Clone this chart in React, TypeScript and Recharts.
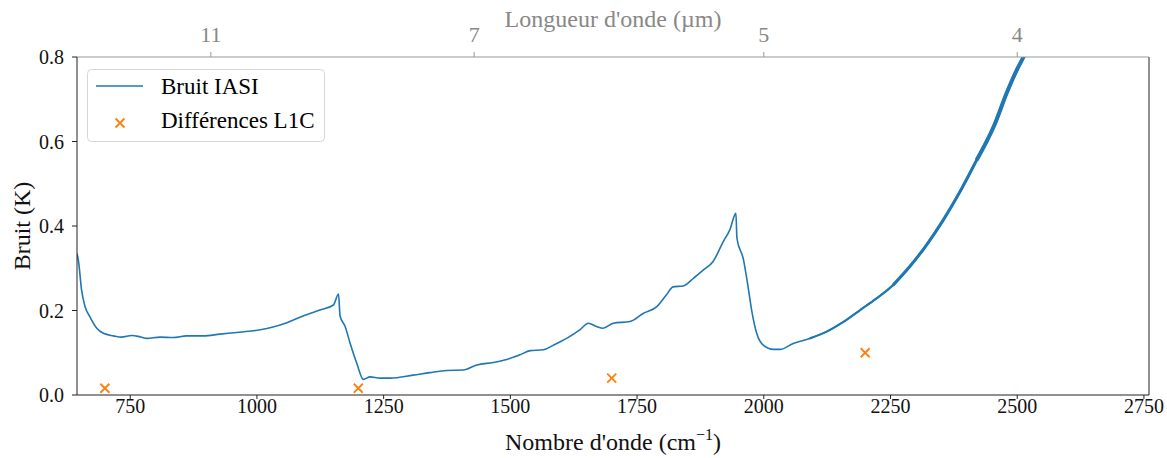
import { ComposedChart, Line, Scatter, XAxis, YAxis, Legend, ReferenceLine } from "recharts"

// Bruit IASI (K) vs nombre d'onde (cm-1)
const wavenumbers = [
  645, 648, 654, 661, 671, 684, 697, 717, 733, 753, 769, 783, 809, 835, 861, 894, 927, 960, 993,
  1026, 1059, 1091, 1124, 1151, 1161, 1164, 1174, 1184, 1197, 1210, 1223, 1243, 1263, 1308, 1341,
  1374, 1407, 1434, 1466, 1493, 1519, 1539, 1565, 1585, 1611, 1637, 1654, 1670, 1683, 1703, 1736,
  1762, 1789, 1808, 1821, 1841, 1861, 1881, 1900, 1920, 1933, 1945, 1947, 1960, 1969, 1976, 1986,
  1999, 2019, 2032, 2058, 2091, 2124, 2157, 2190, 2223, 2255, 2288, 2321, 2354, 2387, 2420, 2455,
  2479, 2499, 2512, 2525,
]
const bruitIasi = [
  0.335, 0.316, 0.249, 0.209, 0.184, 0.158, 0.146, 0.14, 0.137, 0.141, 0.138, 0.134, 0.137, 0.136,
  0.14, 0.14, 0.144, 0.148, 0.152, 0.159, 0.171, 0.187, 0.201, 0.213, 0.239, 0.187, 0.162, 0.122,
  0.075, 0.037, 0.043, 0.04, 0.04, 0.047, 0.053, 0.058, 0.059, 0.071, 0.077, 0.084, 0.095, 0.105,
  0.107, 0.118, 0.134, 0.154, 0.17, 0.162, 0.158, 0.17, 0.174, 0.193, 0.209, 0.237, 0.256, 0.258,
  0.276, 0.296, 0.316, 0.363, 0.391, 0.43, 0.371, 0.32, 0.256, 0.201, 0.146, 0.118, 0.108, 0.108,
  0.122, 0.134, 0.15, 0.173, 0.201, 0.229, 0.26, 0.304, 0.355, 0.414, 0.481, 0.556, 0.639, 0.714,
  0.769, 0.799, 0.83,
]

// Différences L1C
const diffWavenumbers = [700, 1200, 1700, 2200]
const diffValues = [0.016, 0.016, 0.04, 0.1]

const xTicks = [750, 1000, 1250, 1500, 1750, 2000, 2250, 2500, 2750]
const yTicks = [0, 0.2, 0.4, 0.6, 0.8]
const wavelengthTicks = [11, 7, 5, 4] // µm

const noiseData = wavenumbers.map((wn, i) => ({ wn, bruit: bruitIasi[i] }))
const diffData = diffWavenumbers.map((wn, i) => ({ wn, bruit: diffValues[i] }))

const BLUE = "#1f77b4"
const ORANGE = "#ff7f0e"
const FONT = "'Liberation Serif', 'DejaVu Serif', serif"

const XMark = (props: any) => {
  const { cx, cy } = props
  const s = 4.5
  return (
    <path
      d={`M${cx - s},${cy - s}L${cx + s},${cy + s}M${cx - s},${cy + s}L${cx + s},${cy - s}`}
      stroke={ORANGE}
      strokeWidth={1.8}
      fill="none"
    />
  )
}

const LegendBox = () => (
  <svg width={238} height={73} style={{ display: "block" }}>
    <rect x={0.5} y={0.5} width={237} height={72} rx={4} fill="#fff" fillOpacity={0.8} stroke="#d6d6d6" />
    <line x1={9} x2={56} y1={17} y2={17} stroke={BLUE} strokeWidth={1.5} />
    <text x={74} y={25} fontSize={23} fill="#000" fontFamily={FONT}>Bruit IASI</text>
    <XMark cx={33} cy={54} />
    <text x={74} y={59} fontSize={23} fill="#000" fontFamily={FONT}>Différences L1C</text>
  </svg>
)

// the noise band gets wider toward the short-wave end
const noisyFrom = (start: number) => (d: any) => (d.wn >= start ? d.bruit : null)

export default function App() {
  return (
    <div style={{ position: "absolute", left: 0, top: 0, fontFamily: FONT }}>
      <ComposedChart width={1167} height={458} data={noiseData} margin={{ top: 12, right: 18, bottom: 13, left: 17 }}>
        <XAxis
          dataKey="wn"
          type="number"
          domain={[645, 2760]}
          allowDataOverflow
          ticks={xTicks}
          height={50}
          stroke="#222"
          tickSize={4}
          tickMargin={0}
          tick={{ fill: "#111", fontSize: 20 }}
          label={{
            content: () => (
              <text x={613} y={450} textAnchor="middle" fontSize={24} fill="#111">
                Nombre d'onde (cm
                <tspan fontSize={16} dy={-10}>−1</tspan>
                <tspan dy={10}>)</tspan>
              </text>
            ),
          }}
        />
        <XAxis
          xAxisId="top"
          dataKey="wn"
          orientation="top"
          type="number"
          domain={[645, 2760]}
          allowDataOverflow
          ticks={wavelengthTicks.map((l) => 10000 / l)}
          tickFormatter={(v) => String(Math.round(10000 / v))}
          height={45}
          stroke="#999"
          tickSize={5}
          tickMargin={10}
          tick={{ fill: "#888", fontSize: 22 }}
          label={{
            content: () => (
              <text x={613} y={27} textAnchor="middle" fontSize={24} fill="#888">
                Longueur d'onde (µm)
              </text>
            ),
          }}
        />
        <YAxis
          type="number"
          domain={[0, 0.8]}
          allowDataOverflow
          ticks={yTicks}
          tickFormatter={(v) => v.toFixed(1)}
          width={60}
          stroke="#222"
          tickSize={5}
          tickMargin={8}
          tick={{ fill: "#111", fontSize: 20 }}
          label={{
            content: () => (
              <text x={30} y={226} transform="rotate(-90 30 226)" textAnchor="middle" fontSize={24} fill="#111">
                Bruit (K)
              </text>
            ),
          }}
        />
        <ReferenceLine x={2760} stroke="#222" />
        {/* invisible series that ties the wavelength axis to the same data */}
        <Line
          xAxisId="top"
          dataKey="bruit"
          stroke="none"
          dot={false}
          activeDot={false}
          legendType="none"
          isAnimationActive={false}
        />
        <Line
          type="monotone"
          dataKey="bruit"
          stroke={BLUE}
          strokeWidth={1.6}
          dot={false}
          isAnimationActive={false}
        />
        <Line
          type="monotone"
          dataKey={noisyFrom(2090)}
          stroke={BLUE}
          strokeWidth={2.2}
          dot={false}
          legendType="none"
          isAnimationActive={false}
        />
        <Line
          type="monotone"
          dataKey={noisyFrom(2250)}
          stroke={BLUE}
          strokeWidth={3}
          dot={false}
          legendType="none"
          isAnimationActive={false}
        />
        <Line
          type="monotone"
          dataKey={noisyFrom(2400)}
          stroke={BLUE}
          strokeWidth={4}
          dot={false}
          legendType="none"
          isAnimationActive={false}
        />
        <Scatter data={diffData} dataKey="bruit" shape={<XMark />} isAnimationActive={false} />
        <Legend
          layout="vertical"
          align="center"
          verticalAlign="middle"
          content={() => <LegendBox />}
          wrapperStyle={{ position: "absolute", left: 87, top: 69, width: 238, height: 73 }}
        />
      </ComposedChart>
    </div>
  )
}
